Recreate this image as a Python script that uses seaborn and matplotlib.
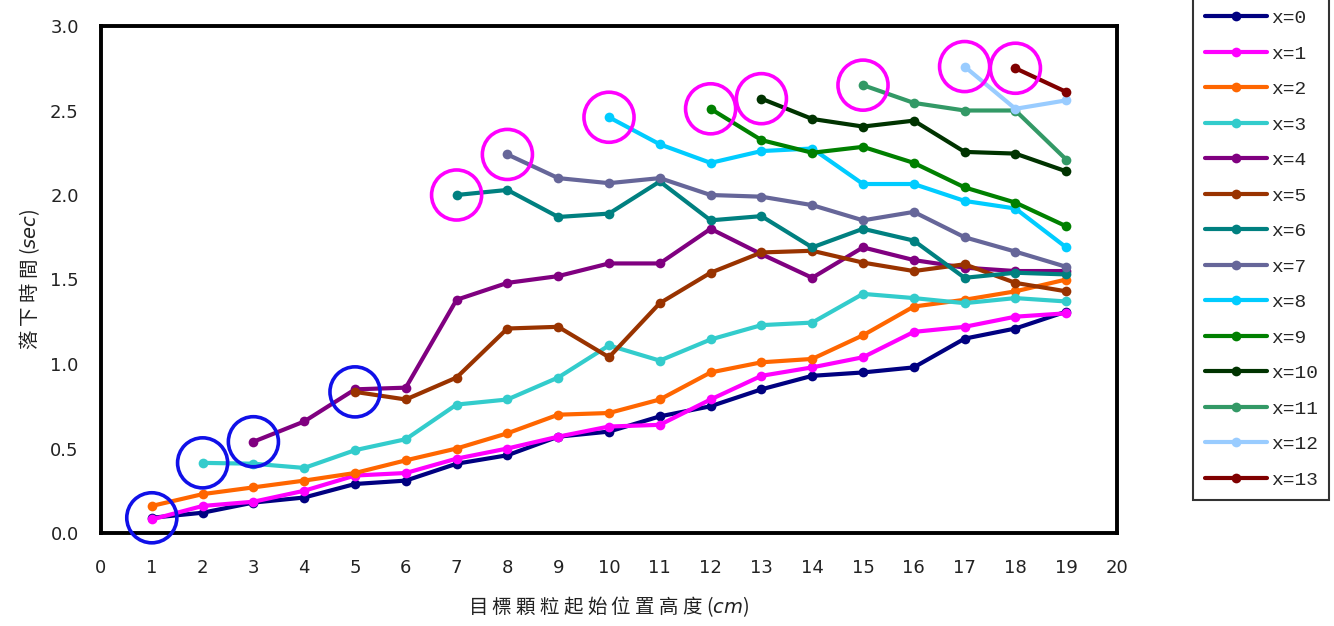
import matplotlib
matplotlib.use("Agg")
import matplotlib.pyplot as plt
from matplotlib.lines import Line2D
import pandas as pd
import seaborn as sns

# Fall time (sec) of the target particle for each column offset x,
# indexed by starting height (cm); each series begins at its own height.
series_labels = ["x=0", "x=1", "x=2", "x=3", "x=4", "x=5", "x=6",
                 "x=7", "x=8", "x=9", "x=10", "x=11", "x=12", "x=13"]
start_heights = [1, 1, 1, 2, 3, 5, 7, 8, 10, 12, 13, 15, 17, 18]

t_x0 = [0.09, 0.12, 0.18, 0.21, 0.29, 0.31, 0.41, 0.46, 0.57, 0.60,
        0.69, 0.75, 0.85, 0.93, 0.95, 0.98, 1.15, 1.21, 1.31]
t_x1 = [0.08, 0.16, 0.185, 0.25, 0.34, 0.355, 0.44, 0.50, 0.57, 0.63,
        0.64, 0.79, 0.93, 0.98, 1.04, 1.19, 1.22, 1.28, 1.30]
t_x2 = [0.16, 0.23, 0.27, 0.31, 0.355, 0.43, 0.50, 0.59, 0.70, 0.71,
        0.79, 0.95, 1.01, 1.03, 1.17, 1.34, 1.38, 1.43, 1.50]
t_x3 = [0.415, 0.41, 0.385, 0.49, 0.555, 0.76, 0.79, 0.92, 1.11, 1.02,
        1.145, 1.23, 1.245, 1.415, 1.39, 1.36, 1.39, 1.37]
t_x4 = [0.54, 0.66, 0.85, 0.86, 1.38, 1.48, 1.52, 1.595, 1.595, 1.80,
        1.65, 1.51, 1.69, 1.615, 1.57, 1.55, 1.55]
t_x5 = [0.835, 0.79, 0.92, 1.21, 1.22, 1.04, 1.36, 1.54, 1.66, 1.67,
        1.60, 1.55, 1.59, 1.48, 1.43]
t_x6 = [2.00, 2.03, 1.87, 1.89, 2.08, 1.85, 1.875, 1.69, 1.80, 1.73,
        1.51, 1.54, 1.53]
t_x7 = [2.24, 2.10, 2.07, 2.10, 2.00, 1.99, 1.94, 1.85, 1.90, 1.75,
        1.665, 1.575]
t_x8 = [2.46, 2.30, 2.19, 2.26, 2.275, 2.065, 2.065, 1.965, 1.92, 1.69]
t_x9 = [2.51, 2.325, 2.25, 2.285, 2.19, 2.045, 1.955, 1.815]
t_x10 = [2.57, 2.45, 2.405, 2.44, 2.255, 2.245, 2.14]
t_x11 = [2.65, 2.545, 2.50, 2.50, 2.21]
t_x12 = [2.76, 2.51, 2.56]
t_x13 = [2.75, 2.61]

all_times = [t_x0, t_x1, t_x2, t_x3, t_x4, t_x5, t_x6,
             t_x7, t_x8, t_x9, t_x10, t_x11, t_x12, t_x13]

series_colors = ["#000080", "#FF00FF", "#FF6600", "#33CCCC", "#800080",
                 "#993300", "#008080", "#666699", "#00CCFF", "#008000",
                 "#003300", "#339966", "#99CCFF", "#800000"]

# Starting points that get highlighted with a ring
ring_blue = ["x=0", "x=3", "x=4", "x=5"]
ring_magenta = ["x=6", "x=7", "x=8", "x=9", "x=10", "x=11", "x=12", "x=13"]

x_ticks = list(range(0, 21))
y_ticks = [0.0, 0.5, 1.0, 1.5, 2.0, 2.5, 3.0]

rows = []
for label, h0, times in zip(series_labels, start_heights, all_times):
    for i, t in enumerate(times):
        rows.append({"height": h0 + i, "time": t, "series": label})
df = pd.DataFrame(rows)
starts = df.groupby("series", sort=False).first().reset_index()

sns.set_style("white")
plt.rcParams["font.family"] = ["DejaVu Sans"]

fig = plt.figure(figsize=(13.34, 6.26), dpi=100)
ax = fig.add_axes([101 / 1334, 93 / 626, 1016 / 1334, 507 / 626])

palette = dict(zip(series_labels, series_colors))
sns.lineplot(data=df, x="height", y="time", hue="series",
             hue_order=series_labels, palette=palette, sort=True,
             marker="o", markersize=7, markeredgewidth=0,
             linewidth=3, legend=False, ax=ax, zorder=3)

for names, col in [(ring_blue, "#1010E8"), (ring_magenta, "#FF00FF")]:
    sub = starts[starts["series"].isin(names)]
    ax.scatter(sub["height"], sub["time"], s=1300, facecolors="none",
               edgecolors=col, linewidths=2.6, zorder=5, clip_on=False)

ax.set_xlim(0, 20)
ax.set_ylim(0, 3.0)
ax.set_xticks(x_ticks)
ax.set_yticks(y_ticks)
ax.set_yticklabels([f"{v:.1f}" for v in y_ticks])
ax.tick_params(axis="both", direction="in", length=6, width=1.4,
               labelsize=13, colors="black", labelcolor="#222222")
ax.tick_params(axis="x", pad=19)
ax.tick_params(axis="y", pad=16)
for sp in ax.spines.values():
    sp.set_linewidth(2.8)
    sp.set_color("black")
ax.grid(False)

cjk = ["Noto Sans CJK TC", "DejaVu Sans"]
ax.set_xlabel("目 標 顆 粒 起 始 位 置 高 度 ($cm$)", family=cjk, fontsize=14,
              labelpad=12, color="#222222")
ax.set_ylabel("落 下 時 間 ($sec$)", family=cjk, fontsize=14,
              labelpad=6, color="#222222")

handles = [Line2D([0], [0], color=c, lw=3, marker="o", markersize=7,
                  markeredgewidth=0) for c in series_colors]
leg = fig.legend(handles, series_labels, loc="upper left",
                 bbox_to_anchor=(1193 / 1334, 628 / 626),
                 prop={"family": "Liberation Mono", "size": 14},
                 frameon=True, fancybox=False, edgecolor="black",
                 handlelength=3.2, handletextpad=0.2, labelspacing=0.92,
                 borderpad=0.6, borderaxespad=0)
leg.get_frame().set_linewidth(1.5)

fig.savefig("out.png", dpi=100, facecolor="white")
